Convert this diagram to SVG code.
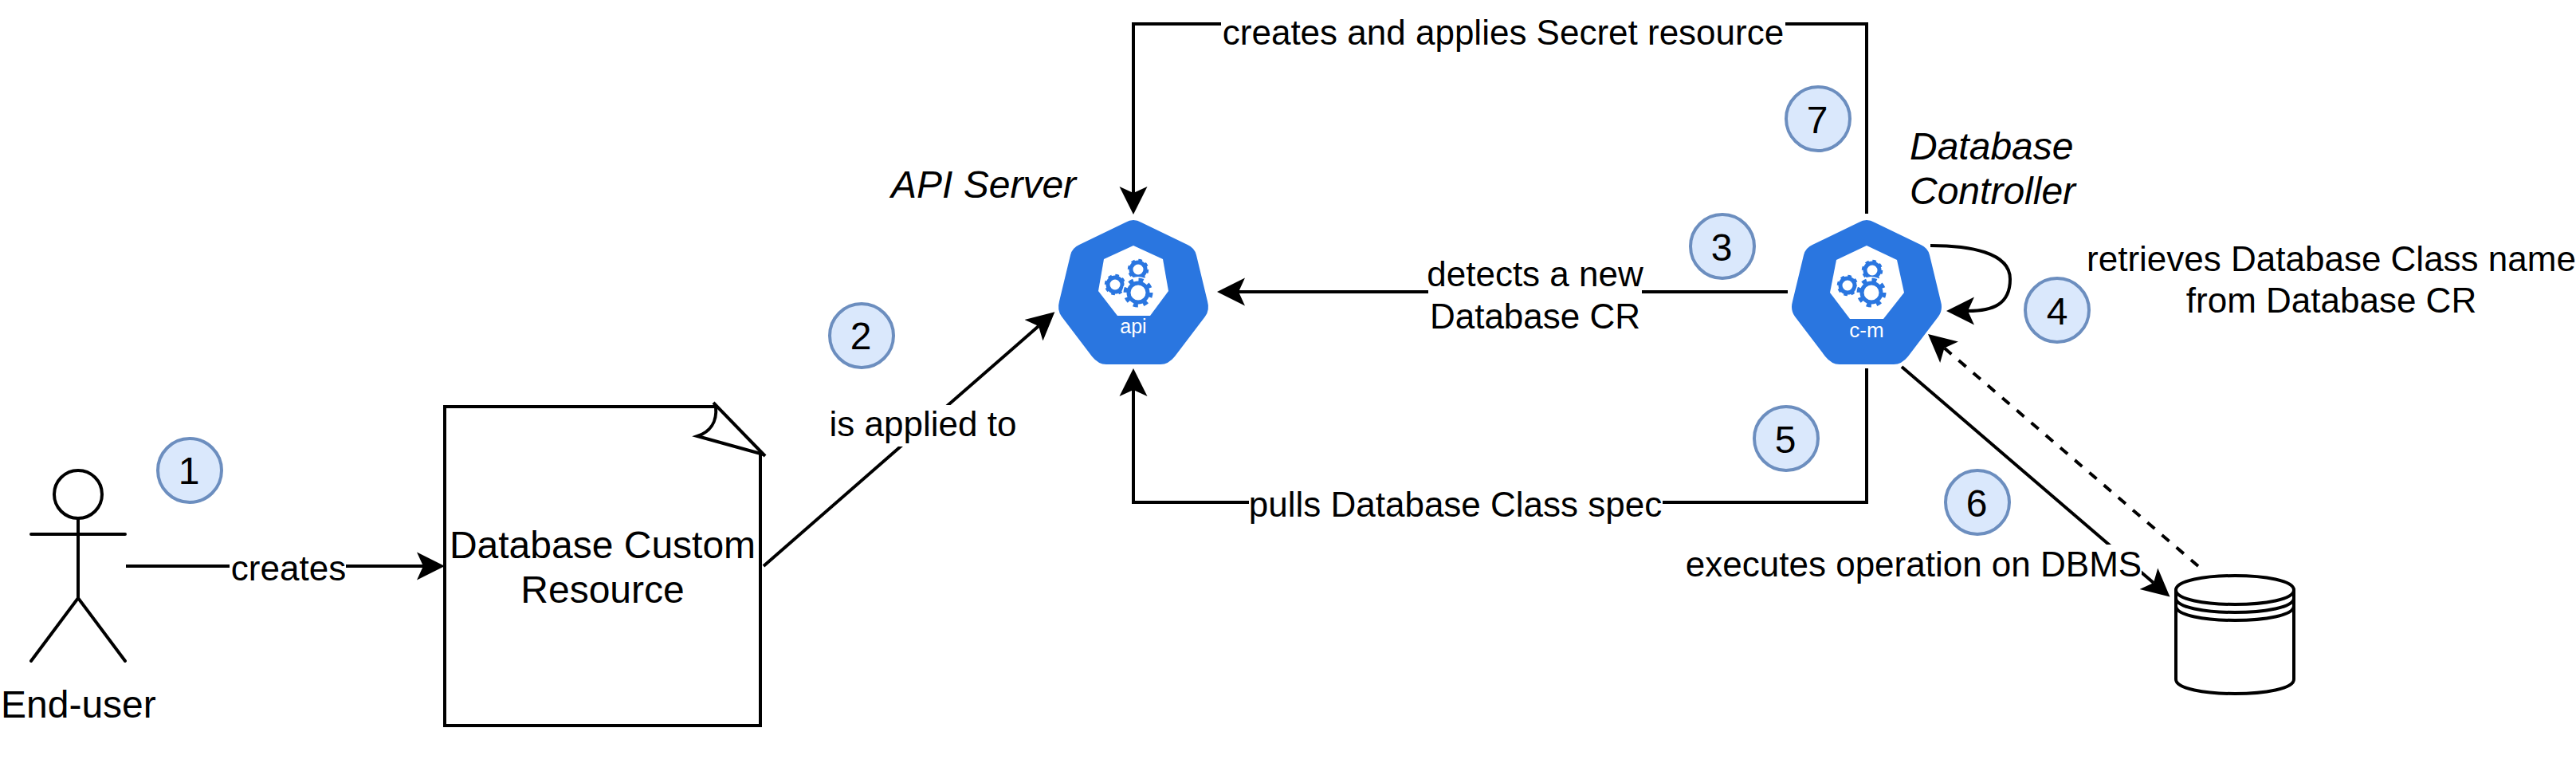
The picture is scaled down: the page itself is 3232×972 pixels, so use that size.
<svg xmlns="http://www.w3.org/2000/svg" xmlns:xlink="http://www.w3.org/1999/xlink" width="3232" height="972" viewBox="0 0 3232 972">
<style>
text{font-family:"Liberation Sans",Arial,sans-serif;fill:#000}
.t48{font-size:48px}.t44{font-size:44px}
.m{text-anchor:middle}
.i{font-style:italic}
.ln{fill:none;stroke:#000;stroke-width:4}
.step circle{fill:#dae8fc;stroke:#6c8ebf;stroke-width:4}
.hex{fill:#2a76e0}
.bg{fill:#fff}
.ic{fill:#fff;text-anchor:middle}
</style>
<defs>
<marker id="arr" markerUnits="userSpaceOnUse" markerWidth="40" markerHeight="40" viewBox="0 -20 40 40" refX="8" refY="0" orient="auto"><path d="M0,-17.500L35,0L0,17.500L8,0Z" fill="#000"/></marker>
<path id="hexo" class="hex" d="M1412,279Q1422,273 1432,279L1490,307Q1499,311 1501,320L1515,378Q1518,389 1512,397L1474,447Q1466,457 1456,457L1388,457Q1378,457 1370,447L1332,397Q1326,389 1329,378L1343,320Q1345,311 1354,307Z"/>
<g id="gear-big"><circle r="20" fill="#fff"/><circle r="12" fill="none" stroke="#2a76e0" stroke-width="5"/><circle r="16" fill="none" stroke="#2a76e0" stroke-width="5" stroke-dasharray="6 6.570"/></g>
<g id="gear-small"><circle r="9" fill="none" stroke="#2a76e0" stroke-width="5"/><circle r="11.500" fill="none" stroke="#2a76e0" stroke-width="3.500" stroke-dasharray="4.500 4.530"/></g>
</defs>
<rect width="3232" height="972" fill="#fff"/>

<g id="connectors">
<path class="ln" d="M158,710H531" marker-end="url(#arr)"/>
<path class="ln" d="M958,710L1303,409" marker-end="url(#arr)"/>
<path class="ln" d="M2243,366H1554" marker-end="url(#arr)"/>
<path class="ln" d="M2342,268V30H1422V242" marker-end="url(#arr)"/>
<path class="ln" d="M2342,462V630H1422V489" marker-end="url(#arr)"/>
<path class="ln" d="M2422,308C2470,308 2522,316 2522,350C2522,382 2500,390 2469,390" marker-end="url(#arr)"/>
<path class="ln" d="M2386,460L2702,731" marker-end="url(#arr)"/>
<path class="ln" d="M2758,710L2439.500,436.600" stroke-dasharray="12 12" marker-end="url(#arr)"/>
<g id="edge-labels">
<rect class="bg" x="288" y="690" width="146" height="46"/>
<text class="t44 m" x="362" y="728">creates</text>
<rect class="bg" x="1040" y="508" width="236" height="52"/>
<text class="t44 m" x="1158" y="547">is applied to</text>
<rect class="bg" x="1792" y="320" width="268" height="102"/>
<text class="t44 m" x="1926" y="359">detects a new</text>
<text class="t44 m" x="1926" y="412">Database CR</text>
<rect class="bg" x="1532" y="10" width="708" height="50"/>
<text class="t44 m" x="1886" y="56">creates and applies Secret resource</text>
<rect class="bg" x="1567" y="606" width="519" height="50"/>
<text class="t44 m" x="1826" y="648">pulls Database Class spec</text>
<rect class="bg" x="2115" y="683" width="572" height="54"/>
<text class="t44 m" x="2401" y="723">executes operation on DBMS</text>
</g>
</g>

<g id="end-user">
<circle class="ln" cx="98" cy="620" r="30"/>
<path class="ln" stroke-linecap="round" d="M98,650V750M39,670H157M39,829L98,750L157,829"/>
<text class="t48" x="1" y="900">End-user</text>
</g>

<g id="database-custom-resource">
<path class="ln" d="M898,510H558V910H954V570"/>
<path class="ln" d="M898,510C900,530 890,542 875,547L958,570" fill="#fff"/>
<path d="M895,505L960,572" stroke="#000" stroke-width="4"/>
<text class="t48 m" x="756" y="700">Database Custom</text>
<text class="t48 m" x="756" y="756">Resource</text>
</g>

<g id="api-server">
<use xlink:href="#hexo" href="#hexo"/>
<path fill="#fff" d="M1422,308L1459,325L1466,365L1443,396H1402L1378,365L1385,325Z"/>
<use xlink:href="#gear-small" href="#gear-small" transform="translate(1399,357)"/>
<use xlink:href="#gear-small" href="#gear-small" transform="translate(1428,338)"/>
<use xlink:href="#gear-big" href="#gear-big" transform="translate(1428,367)"/>
<text class="ic" font-size="25" x="1422" y="418">api</text>
<text class="t48 i" x="1118" y="248">API Server</text>
</g>

<g id="database-controller">
<use xlink:href="#hexo" href="#hexo" transform="translate(920,0)"/>
<path fill="#fff" d="M2342,308L2380,326L2389,367L2363,400H2321L2296,367L2304,326Z"/>
<use xlink:href="#gear-small" href="#gear-small" transform="translate(2318,358)"/>
<use xlink:href="#gear-small" href="#gear-small" transform="translate(2349,339)"/>
<use xlink:href="#gear-big" href="#gear-big" transform="translate(2348,367)"/>
<text class="ic" font-size="26" x="2342" y="423">c-m</text>
<text class="t48 i" x="2396" y="200">Database</text>
<text class="t48 i" x="2396" y="256">Controller</text>
<text class="t44 m" x="2925" y="340">retrieves Database Class name</text>
<text class="t44 m" x="2925" y="392">from Database CR</text>
</g>

<g id="dbms">
<path class="ln" fill="#fff" d="M2730,740C2730,716 2878,716 2878,740V852C2878,876 2730,876 2730,852Z"/>
<path class="ln" d="M2730,740C2730,764 2878,764 2878,740M2730,750C2730,774 2878,774 2878,750M2730,760C2730,784 2878,784 2878,760"/>
</g>

<g class="step" id="step-1"><circle cx="238" cy="590" r="40"/><text class="t48 m" x="237" y="607">1</text></g>
<g class="step" id="step-2"><circle cx="1081" cy="421" r="40"/><text class="t48 m" x="1080" y="438">2</text></g>
<g class="step" id="step-3"><circle cx="2161" cy="309" r="40"/><text class="t48 m" x="2160" y="327">3</text></g>
<g class="step" id="step-4"><circle cx="2581" cy="389" r="40"/><text class="t48 m" x="2581" y="407">4</text></g>
<g class="step" id="step-5"><circle cx="2241" cy="550" r="40"/><text class="t48 m" x="2240" y="568">5</text></g>
<g class="step" id="step-6"><circle cx="2481" cy="630" r="40"/><text class="t48 m" x="2480" y="648">6</text></g>
<g class="step" id="step-7"><circle cx="2281" cy="149" r="40"/><text class="t48 m" x="2280" y="167">7</text></g>
</svg>
